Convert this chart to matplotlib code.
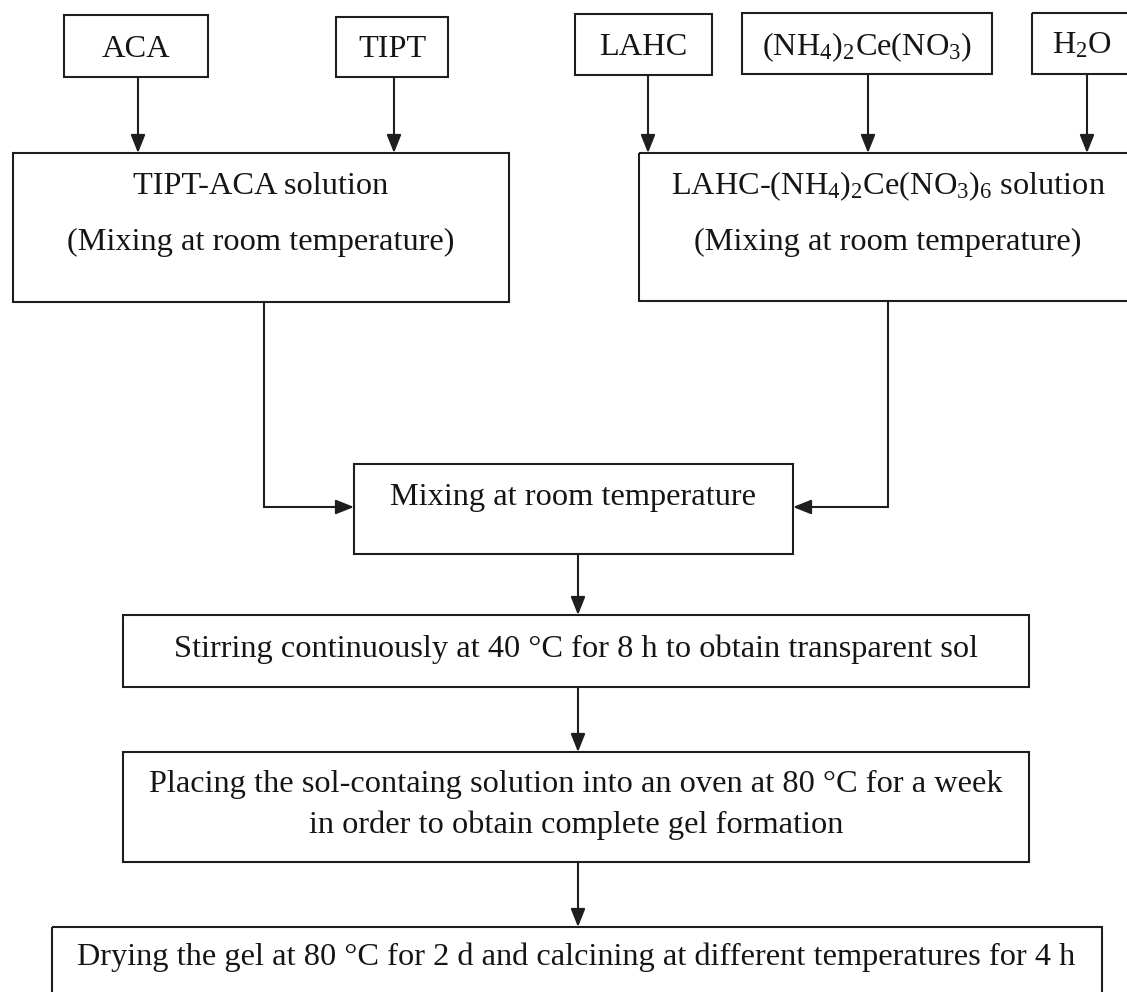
import matplotlib
matplotlib.use("Agg")
import matplotlib.pyplot as plt
from matplotlib.patches import Rectangle

plt.rcParams['font.family'] = ['Liberation Serif', 'DejaVu Serif']
plt.rcParams['mathtext.fontset'] = 'custom'
plt.rcParams['mathtext.rm'] = 'Liberation Serif'
plt.rcParams['mathtext.it'] = 'Liberation Serif:italic'

# labels of the flow chart
input_labels = ['ACA', 'TIPT', 'LAHC',
                r'(NH$_\mathrm{4}$)$_\mathrm{2}$Ce(NO$_\mathrm{3}$)',
                r'H$_\mathrm{2}$O']
solution_labels = [
    ['TIPT-ACA solution', '(Mixing at room temperature)'],
    [r'LAHC-(NH$_\mathrm{4}$)$_\mathrm{2}$Ce(NO$_\mathrm{3}$)$_\mathrm{6}$ solution',
     '(Mixing at room temperature)'],
]
mix_label = 'Mixing at room temperature'
step_labels = [
    ['Stirring continuously at 40 °C for 8 h to obtain transparent sol'],
    ['Placing the sol-containg solution into an oven at 80 °C for a week',
     'in order to obtain complete gel formation'],
    ['Drying the gel at 80 °C for 2 d and calcining at different temperatures for 4 h'],
]

W, H = 1127, 992
fig = plt.figure(figsize=(W / 100, H / 100), dpi=100)
ax = fig.add_axes([0, 0, 1, 1])
ax.set_xlim(0, W)
ax.set_ylim(H, 0)
ax.axis('off')

lc = '#1e1e1e'
fs = 23.3
lw = 1.5


def box(x0, x1, y0, y1):
    ax.add_patch(Rectangle((x0, y0), x1 - x0, y1 - y0, fill=False,
                           ec=lc, lw=lw, clip_on=True))


def arrow(x0, y0, x1, y1):
    ax.annotate('', xy=(x1, y1), xytext=(x0, y0),
                arrowprops=dict(arrowstyle='-|>,head_length=0.55,head_width=0.22',
                                mutation_scale=20, lw=lw, color=lc,
                                shrinkA=0, shrinkB=0))


def label(x, y, s):
    ax.text(x, y, s, ha='center', va='baseline', fontsize=fs, color='#151515')


# layout (pixels)
in_boxes = [(64, 208, 15, 77), (336, 448, 17, 77), (575, 712, 14, 75),
            (742, 992, 13, 74), (1032, 1140, 13, 74)]
in_text_x = [136, 392, 643, 867, 1082]
in_arrow_x = [138, 394, 648, 868, 1087]
in_base = [57, 57, 55, 55, 54]
sol_boxes = [(13, 509, 153, 302), (639, 1137, 153, 301)]
sol_out_x = [264, 888]
mix_box = (354, 793, 464, 554)
mix_y = 507
step_boxes = [(123, 1029, 615, 687), (123, 1029, 752, 862), (52, 1102, 927, 1010)]
step_base = [[657], [792, 833], [965]]
cx = 578

for b, s, xt, xa, yb in zip(in_boxes, input_labels, in_text_x, in_arrow_x, in_base):
    box(*b)
    label(xt, yb, s)
    arrow(xa, b[3], xa, 153)

for b, lines in zip(sol_boxes, solution_labels):
    box(*b)
    for s, yb in zip(lines, [194, 250]):
        label((b[0] + b[1]) / 2, yb, s)

# merge into mixing step
box(*mix_box)
label((mix_box[0] + mix_box[1]) / 2, 505, mix_label)
ax.plot([sol_out_x[0], sol_out_x[0]], [sol_boxes[0][3], mix_y], color=lc, lw=lw)
arrow(sol_out_x[0], mix_y, mix_box[0], mix_y)
ax.plot([sol_out_x[1], sol_out_x[1]], [sol_boxes[1][3], mix_y], color=lc, lw=lw)
arrow(sol_out_x[1], mix_y, mix_box[1], mix_y)

prev_bottom = mix_box[3]
for b, lines, bases in zip(step_boxes, step_labels, step_base):
    arrow(cx, prev_bottom, cx, b[2])
    box(*b)
    for s, yb in zip(lines, bases):
        label(576, yb, s)
    prev_bottom = b[3]

fig.savefig('out.png', dpi=100, facecolor='white')
